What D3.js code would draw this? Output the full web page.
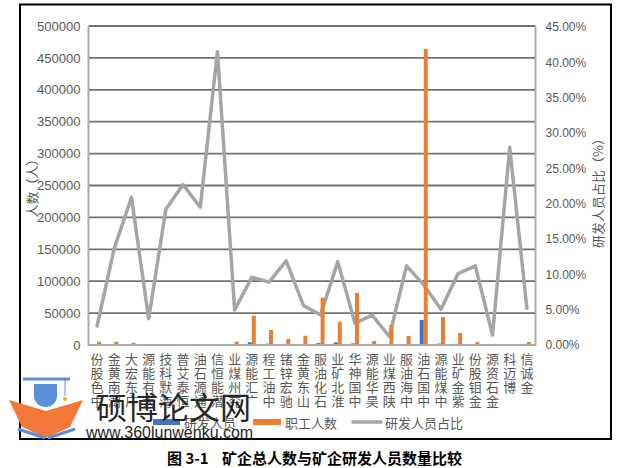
<!DOCTYPE html>
<html><head><meta charset="utf-8">
<script src="https://cdn.jsdelivr.net/npm/d3@7"></script>
<style>
html,body{margin:0;padding:0;background:#fff;}
svg{display:block;}
</style>
</head><body>
<svg id="chart" width="639" height="468"></svg>
<script>
const categories = ["中色股份","湖南黄金","广东宏大","大有能源","海默科技","恒泰艾普","通源石油","潜能恒信","兖州煤业","广汇能源","中油工程","驰宏锌锗","山东黄金","石化油服","淮北矿业","中国神华","昊华能源","陕西煤业","中海油服","中国石油","中煤能源","紫金矿业","金钼股份","金石资源","博迈科","金诚信"];
const rdStaff = [140,700,750,30,190,230,180,80,250,4400,2100,1100,820,3100,4200,2500,260,380,1600,39300,2200,1900,530,10,360,250];
const totalStaff = [5200,5000,3600,800,1000,1000,900,200,5000,45900,23500,9400,14600,74100,36000,81500,6300,31300,14100,464000,43900,18800,4700,700,1300,4700];
const rdRatio = [0.027,0.137,0.209,0.037,0.192,0.227,0.195,0.415,0.0495,0.096,0.089,0.119,0.056,0.0424,0.118,0.0307,0.0424,0.012,0.112,0.085,0.0505,0.101,0.112,0.014,0.2796,0.052];
const leftTicks = [0,50000,100000,150000,200000,250000,300000,350000,400000,450000,500000];
const rightTicks = [0,0.05,0.10,0.15,0.20,0.25,0.30,0.35,0.40,0.45];
const seriesNames = ["研发人员","职工人数","研发人员占比"];
const colors = {rd:"#4472C4", staff:"#ED7D31", ratio:"#A5A5A5"};

const svg = d3.select("#chart");
const L = 88.5, R = 535.5, B = 345, T = 26;
const textGray = "#595959";

// frame
svg.append("rect").attr("x",20).attr("y",4.5).attr("width",591).attr("height",434.5)
  .attr("fill","#fff").attr("stroke","#000").attr("stroke-width",2);

const x = d3.scaleBand().domain(categories).range([L, R]).padding(0);
const xs = d3.scaleBand().domain(["rd","staff"]).range([0, x.bandwidth()]).paddingInner(0).paddingOuter(1.15);
const yL = d3.scaleLinear().domain([0,500000]).range([B, T]);
const yR = d3.scaleLinear().domain([0,0.45]).range([B, 27]);

// gridlines
svg.append("g").selectAll("line").data(leftTicks.filter(d=>d>0)).join("line")
  .attr("x1",L).attr("x2",R).attr("y1",d=>yL(d)).attr("y2",d=>yL(d))
  .attr("stroke","#747070").attr("stroke-width",1.8);

// left axis labels
const axL = d3.axisLeft(yL).tickValues(leftTicks).tickSize(0).tickPadding(8).tickFormat(d3.format("d"));
const gL = svg.append("g").attr("transform",`translate(${L},0)`).call(axL);
gL.select(".domain").remove();
gL.selectAll("text").attr("font-family","Liberation Sans, Arial, sans-serif").attr("font-size",13).attr("fill",textGray);

// right axis labels
const axR = d3.axisRight(yR).tickValues(rightTicks).tickSize(0).tickPadding(10).tickFormat(d3.format(".2%"));
const gR = svg.append("g").attr("transform",`translate(${R},0)`).call(axR);
gR.select(".domain").remove();
gR.selectAll("text").attr("font-family","Liberation Sans, Arial, sans-serif").attr("font-size",12).attr("fill",textGray);

// ratio line
const line = d3.line().x((d,i)=>x(categories[i])+x.bandwidth()/2).y(d=>yR(d));
svg.append("path").datum(rdRatio).attr("d",line).attr("fill","none")
  .attr("stroke",colors.ratio).attr("stroke-width",3.5).attr("stroke-linejoin","round").attr("stroke-linecap","round");

// bars
const gb = svg.append("g");
gb.selectAll("rect.rd").data(rdStaff).join("rect").attr("class","rd")
  .attr("x",(d,i)=>x(categories[i])+xs("rd")).attr("width",xs.bandwidth())
  .attr("y",d=>yL(d)).attr("height",d=>B-yL(d)).attr("fill",colors.rd);
gb.selectAll("rect.st").data(totalStaff).join("rect").attr("class","st")
  .attr("x",(d,i)=>x(categories[i])+xs("staff")).attr("width",xs.bandwidth())
  .attr("y",d=>yL(d)).attr("height",d=>B-yL(d)).attr("fill",colors.staff);

// axis lines
svg.append("line").attr("x1",L).attr("x2",L).attr("y1",T).attr("y2",B+1).attr("stroke","#ABABAB").attr("stroke-width",2);
svg.append("line").attr("x1",R).attr("x2",R).attr("y1",T).attr("y2",B+1).attr("stroke","#ABABAB").attr("stroke-width",2);
svg.append("line").attr("x1",L).attr("x2",R).attr("y1",B).attr("y2",B).attr("stroke","#ABABAB").attr("stroke-width",2);

// category labels: vertical upright glyphs, reading bottom-to-top (one text per label)
const gc = svg.append("g").attr("font-family","Noto Sans CJK SC, sans-serif").attr("font-size",13).attr("fill",textGray);
gc.selectAll("text").data(categories).join("text")
  .attr("x",d=>x(d)+x.bandwidth()/2).attr("y",352.5)
  .style("writing-mode","vertical-rl").style("text-orientation","upright").style("letter-spacing","1px")
  .text(d=>Array.from(d).reverse().join(""));

// axis titles
svg.append("text").attr("transform","translate(31,185) rotate(-90)").attr("text-anchor","middle")
  .attr("dominant-baseline","central").attr("font-family","Noto Sans CJK SC, sans-serif").attr("font-size",13)
  .attr("fill",textGray).text("人数（人）");
svg.append("text").attr("transform","translate(597,190) rotate(-90)").attr("text-anchor","middle")
  .attr("dominant-baseline","central").attr("font-family","Noto Sans CJK SC, sans-serif").attr("font-size",13)
  .attr("fill",textGray).text("研发人员占比（%）");

// legend
const lg = svg.append("g").attr("font-family","Noto Sans CJK SC, sans-serif").attr("font-size",13).attr("fill",textGray);
lg.append("rect").attr("x",153).attr("y",419).attr("width",27).attr("height",6).attr("fill",colors.rd);
lg.append("text").attr("x",184).attr("y",422).attr("dominant-baseline","central").text(seriesNames[0]);
lg.append("rect").attr("x",253).attr("y",419).attr("width",28).attr("height",6).attr("fill",colors.staff);
lg.append("text").attr("x",285).attr("y",422).attr("dominant-baseline","central").text(seriesNames[1]);
lg.append("line").attr("x1",353).attr("x2",381).attr("y1",422).attr("y2",422).attr("stroke",colors.ratio).attr("stroke-width",3.5).attr("stroke-linecap","round");
lg.append("text").attr("x",385).attr("y",422).attr("dominant-baseline","central").text(seriesNames[2]);

// caption
const cap = svg.append("g").attr("font-family","Noto Sans CJK SC, sans-serif").attr("font-size",15).attr("font-weight","bold").attr("fill","#000");
cap.append("text").attr("x",167).attr("y",457).attr("dominant-baseline","central").text("图 3-1");
cap.append("text").attr("x",222).attr("y",457).attr("dominant-baseline","central").text("矿企总人数与矿企研发人员数量比较");

// watermark
const wm = svg.append("g");
wm.append("polygon").attr("points","9,400 46,411 83,400 70,427 46,438 22,427").attr("fill","#F4773A");
wm.append("line").attr("x1",23).attr("x2",70).attr("y1",379).attr("y2",379).attr("stroke","#5B8FD8").attr("stroke-width",3);
wm.append("path").attr("d","M34,384 L57,384 L57,396 A11.5,11 0 0 1 34,396 Z").attr("fill","#5B8FD8");
wm.append("line").attr("x1",65).attr("x2",65).attr("y1",379).attr("y2",396).attr("stroke","#5B8FD8").attr("stroke-width",1);
wm.append("circle").attr("cx",65).attr("cy",399).attr("r",2).attr("fill","#F5A623");
wm.append("path").attr("d","M18,429 L45,438 M75,429 L48,438").attr("stroke","#5B8FD8").attr("stroke-width",3).attr("fill","none");
wm.append("text").attr("x",96).attr("y",405).attr("dominant-baseline","central").attr("font-family","Noto Sans CJK SC, sans-serif")
  .attr("font-size",31).attr("fill","#262626").text("硕博论文网");
wm.append("text").attr("x",86).attr("y",432).attr("dominant-baseline","central").attr("font-family","Liberation Sans, Arial, sans-serif")
  .attr("font-size",16).attr("fill","#262626").text("www.360lunwenku.com");
</script>
</body></html>
